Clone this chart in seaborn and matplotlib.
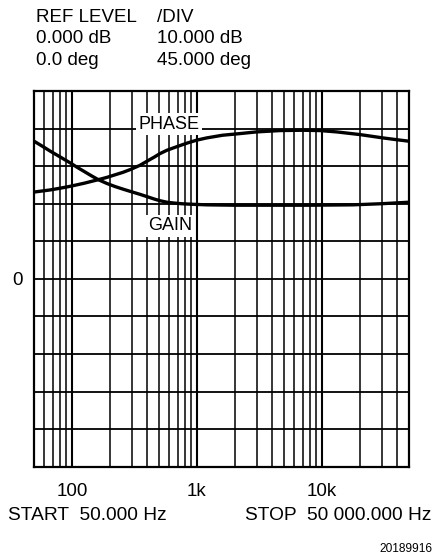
import matplotlib
matplotlib.use("Agg")
import matplotlib.pyplot as plt
import seaborn as sns
import pandas as pd
from matplotlib.ticker import LogLocator, FixedLocator, FixedFormatter, NullFormatter

# ---- data ----
gain_freq = [50, 60, 67, 80, 96.5, 110, 125, 142, 162.6, 190, 220, 255, 291.6, 350, 406,
             460, 506, 575, 647, 750, 850, 1000, 1200, 2000, 3840, 8000, 17720, 30000, 50000]
gain_db = [36.6, 35.0, 34.0, 32.5, 30.9, 29.7, 28.6, 27.5, 26.4, 25.4, 24.6, 23.9, 23.3, 22.5, 21.8,
           21.2, 20.8, 20.4, 20.2, 20.0, 19.9, 19.8, 19.7, 19.6, 19.6, 19.6, 19.7, 20.0, 20.4]

phase_freq = [50, 67, 80, 96.5, 125, 162.6, 190, 220, 255, 291.6, 350, 406, 460, 506, 575, 647,
              750, 850, 1000, 1197, 1600, 2211, 3000, 4620, 7000, 9650, 13125, 20160, 30800, 40000, 50000]
phase_deg = [104, 106.5, 108.5, 110.8, 114.5, 118.8, 121.5, 124.5, 127.5, 130.8, 136, 141.6, 146.2, 150, 154, 156.8,
             160.2, 163, 166.2, 168.8, 172, 174, 176, 177.6, 178, 177.6, 176, 172.8, 168.8, 166.6, 164.8]

x_ticks = [100, 1000, 10000]
x_ticklabels = ["100", "1k", "10k"]
y_label_ticks = [0]

header_col1 = ["REF LEVEL", "0.000 dB", "0.0 deg"]
header_col2 = ["/DIV", "10.000 dB", "45.000 deg"]

sns.set_theme(style="white")
plt.rcParams["font.family"] = ["Liberation Sans", "DejaVu Sans"]

W, H = 435, 556
fig = plt.figure(figsize=(W / 100, H / 100), dpi=100)
L, R, T, B = 34.3, 409.3, 91.0, 466.7
ax = fig.add_axes([L / W, 1 - B / H, (R - L) / W, (B - T) / H])

gdf = pd.DataFrame({"f": gain_freq, "v": gain_db})
pdf = pd.DataFrame({"f": phase_freq, "v": phase_deg})

ax.set_xscale("log")
ax.set_xlim(50, 50000)
ax.set_ylim(-50, 50)
sns.lineplot(data=gdf, x="f", y="v", ax=ax, color="black", lw=2.4, zorder=5)

ax2 = ax.twinx()
ax2.set_xscale("log")
ax2.set_xlim(50, 50000)
ax2.set_ylim(-225, 225)
sns.lineplot(data=pdf, x="f", y="v", ax=ax2, color="black", lw=2.4, zorder=5)
ax2.set_yticks([])
ax2.set_ylabel("")
for s in ax2.spines.values():
    s.set_visible(False)
ax2.grid(False)

# grid
ax.xaxis.set_major_locator(FixedLocator(x_ticks))
ax.xaxis.set_major_formatter(FixedFormatter(x_ticklabels))
ax.xaxis.set_minor_locator(LogLocator(base=10, subs=range(2, 10)))
ax.xaxis.set_minor_formatter(NullFormatter())
ax.set_yticks(range(-50, 51, 10))
ax.set_yticklabels(["0" if v in y_label_ticks else "" for v in range(-50, 51, 10)])
ax.grid(True, which="major", axis="x", color="black", lw=1.5)
ax.grid(True, which="minor", axis="x", color="black", lw=1.1)
ax.grid(True, which="major", axis="y", color="black", lw=1.3)
ax.set_axisbelow(True)
ax.tick_params(axis="x", which="both", length=0, pad=11.5, labelsize=13.5, colors="black")
ax.tick_params(axis="y", which="both", length=0, pad=8, labelsize=13.5, colors="black")
ax.set_xlabel("")
ax.set_ylabel("")
for s in ax.spines.values():
    s.set_visible(True)
    s.set_color("black")
    s.set_linewidth(1.6)

# curve labels
ax.text(0.359, 0.912, "PHASE", transform=ax.transAxes, ha="center", va="center",
        fontsize=13, color="black", zorder=6,
        bbox=dict(facecolor="white", edgecolor="none", pad=1.5))
ax.text(0.362, 0.641, "GAIN", transform=ax.transAxes, ha="center", va="center",
        fontsize=13, color="black", zorder=6,
        bbox=dict(facecolor="white", edgecolor="none", pad=1.5))

# header text
for i, (a, b) in enumerate(zip(header_col1, header_col2)):
    yb = 21.7 + i * 21.7
    fig.text(36.5 / W, 1 - yb / H, a, fontsize=13.5, va="baseline", ha="left", color="black")
    fig.text(157 / W, 1 - yb / H, b, fontsize=13.5, va="baseline", ha="left", color="black")

fig.text(8.3 / W, 1 - 520 / H, "START  50.000 Hz", fontsize=13.8, va="baseline", ha="left", color="black")
fig.text(432 / W, 1 - 520 / H, "STOP  50 000.000 Hz", fontsize=13.8, va="baseline", ha="right", color="black")
fig.text(432 / W, 1 - 551.7 / H, "20189916", fontsize=8.6, va="baseline", ha="right", color="black")

fig.savefig("out.png", dpi=100)
